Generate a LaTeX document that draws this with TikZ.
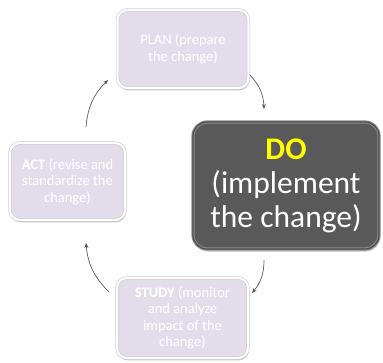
\documentclass[tikz,border=0pt]{standalone}
\usepackage{fontspec}
\setmainfont{Carlito}
\usetikzlibrary{arrows.meta,calc,shadows}
\definecolor{lav}{HTML}{E3DDEB}
\definecolor{dogray}{HTML}{595959}
\definecolor{doedge}{HTML}{8C8C8C}
\definecolor{arrgray}{HTML}{5A5A5A}
\definecolor{doyellow}{HTML}{FFFF00}
\begin{document}
\begin{tikzpicture}[x=1pt,y=-1pt,
  cyc/.style={rectangle, rounded corners=10pt, fill=lav, draw=gray!45,
    double=white, double distance=2.2pt, line width=0.6pt, text=white,
    font=\fontsize{14.5}{16.5}\selectfont, align=center, inner sep=0pt,
    drop shadow={shadow xshift=0.8pt, shadow yshift=-2.4pt, opacity=0.45, fill=gray}},
  dobox/.style={rectangle, rounded corners=14pt, fill=dogray, draw=doedge,
    double=dogray!85!black, double distance=1.2pt, line width=1pt, text=white,
    font=\fontsize{31.5}{34}\selectfont, align=center, inner sep=0pt,
    drop shadow={shadow xshift=1pt, shadow yshift=-2.5pt, opacity=0.45, fill=gray}},
  arr/.style={-{Stealth[length=5pt,width=4pt]}, draw=arrgray, line width=0.7pt}
]
\useasboundingbox (0,0) rectangle (383,362);
\node[cyc, minimum width=131pt, minimum height=78pt] (plan) at (183,49)
  {PLAN (prepare\\the change)};
\node[cyc, minimum width=115pt, minimum height=77pt] (act) at (67.5,181.5)
  {\textbf{ACT} (revise and\\standardize the\\change)};
\node[cyc, minimum width=131pt, minimum height=80pt] (study) at (182.5,318)
  {\textbf{STUDY} (monitor\\and analyze\\impact of the\\change)};
\node[dobox, minimum width=186pt, minimum height=127pt] (do) at (286,185.5)
  {{\bfseries\color{doyellow}DO}\\(implement\\the change)};
\draw[arr] ($(act.center)+(18.5,-54.5)$) to[bend left=20] ($(plan.center)+(-75,31)$);
\draw[arr] ($(plan.center)+(67,26)$) to[bend left=20] ($(do.center)+(-22,-76.5)$);
\draw[arr] ($(do.center)+(-22,74.5)$) to[bend left=20] ($(study.center)+(69.5,-25)$);
\draw[arr] ($(study.center)+(-73.5,-26)$) to[bend left=20] ($(act.center)+(18.5,61.5)$);
\end{tikzpicture}
\end{document}
